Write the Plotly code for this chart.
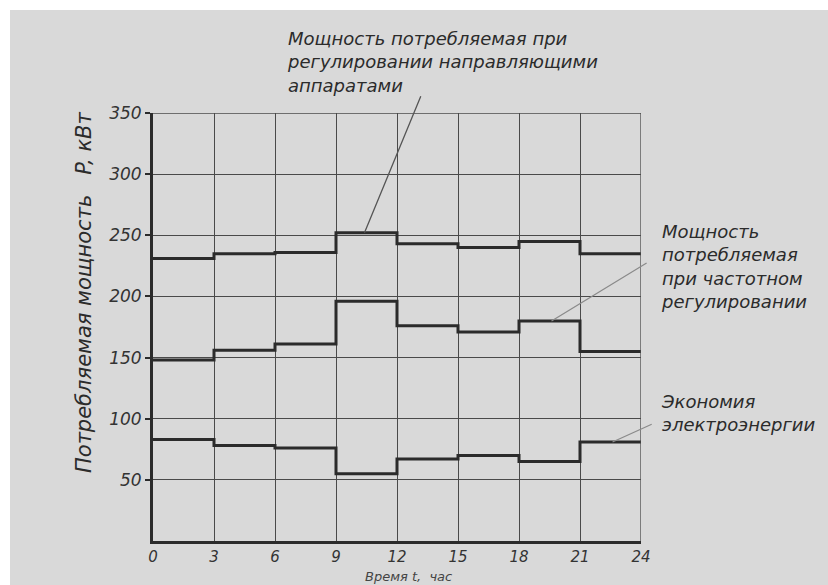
import plotly.graph_objects as go

hours = [0, 3, 6, 9, 12, 15, 18, 21]
end_hour = 24
guide_vanes = [231, 235, 236, 252, 243, 240, 245, 235]
frequency = [148, 156, 161, 196, 176, 171, 180, 155]
savings = [83, 78, 76, 55, 67, 70, 65, 81]

x_ticks = [0, 3, 6, 9, 12, 15, 18, 21, 24]
y_ticks = [50, 100, 150, 200, 250, 300, 350]

label_guide = "Мощность потребляемая при<br>регулировании направляющими<br>аппаратами"
label_freq = "Мощность<br>потребляемая<br>при частотном<br>регулировании"
label_save = "Экономия<br>электроэнергии"
x_title = "Время t,  час"
y_title = "Потребляемая мощность   P, кВт"

FONT = "DejaVu Sans"
INK = "#2b2b2b"
BG = "#d9d9d9"

fig = go.Figure()
xs = hours + [end_hour]
for vals in (guide_vanes, frequency, savings):
    fig.add_trace(go.Scatter(
        x=xs, y=vals + [vals[-1]], mode="lines", line_shape="hv",
        line=dict(color=INK, width=3), showlegend=False, hoverinfo="skip"))

# background card (white border at top/left)
fig.add_shape(type="rect", xref="paper", yref="paper",
              x0=(10 - 153) / 488, x1=1.6, y0=-0.3, y1=(541 - 10) / 428,
              fillcolor=BG, line_width=0, layer="below")

def leader(x0, y0, x1, y1, color="#6a6a6a", width=1.2):
    fig.add_annotation(x=x0, y=y0, ax=x1, ay=y1, xref="x", yref="y", axref="x", ayref="y",
                       showarrow=True, arrowhead=0, arrowwidth=width, arrowcolor=color, text="")

leader(10.4, 252, 13.2, 365, color="#555555", width=1.3)
leader(19.6, 180, 24.35, 228, color="#8a8a8a", width=1.2)
leader(22.6, 81, 24.6, 96, color="#8a8a8a", width=1.2)

ann_font = dict(family=FONT, size=18, color=INK, style="italic")
fig.add_annotation(text=label_guide, xref="paper", yref="paper", x=(285-153)/488, y=(541-26)/428,
                   xanchor="left", yanchor="top", align="left", showarrow=False, font=ann_font)
fig.add_annotation(text=label_freq, xref="paper", yref="paper", x=(659-153)/488, y=(541-219)/428,
                   xanchor="left", yanchor="top", align="left", showarrow=False, font=ann_font)
fig.add_annotation(text=label_save, xref="paper", yref="paper", x=(659-153)/488, y=(541-389)/428,
                   xanchor="left", yanchor="top", align="left", showarrow=False, font=ann_font)

fig.add_annotation(text=x_title, xref="paper", yref="paper", x=(408-153)/488, y=(541-576.5)/428,
                   xanchor="center", yanchor="middle", showarrow=False,
                   font=dict(family=FONT, size=13, color="#444", style="italic"))
fig.add_annotation(text=y_title, xref="paper", yref="paper", x=(84-153)/488, y=(541-292)/428,
                   xanchor="center", yanchor="middle", textangle=-90, showarrow=False,
                   font=dict(family=FONT, size=21, color=INK, style="italic"))

tick_font = dict(family=FONT, size=15, color="#333", style="italic")
fig.update_xaxes(range=[0, 24], tickvals=x_ticks, ticktext=[str(v) for v in x_ticks],
                 showgrid=True, gridcolor="#4a4a4a", gridwidth=1.3,
                 showline=True, linecolor=INK, linewidth=3, zeroline=False,
                 ticks="", tickfont=tick_font)
fig.update_yaxes(range=[0, 350], tickvals=y_ticks, ticktext=[str(v) for v in y_ticks],
                 showgrid=True, gridcolor="#4a4a4a", gridwidth=1.3,
                 showline=True, linecolor=INK, linewidth=3, zeroline=False,
                 ticks="outside", ticklen=5, tickcolor=INK, tickwidth=2,
                 tickfont=dict(family=FONT, size=17, color="#333", style="italic"))

fig.add_shape(type="line", xref="x", yref="y", x0=24, x1=24, y0=0, y1=350,
              line=dict(color="#4a4a4a", width=1.3))
fig.add_shape(type="line", xref="x", yref="y", x0=0, x1=24, y0=350, y1=350,
              line=dict(color="#4a4a4a", width=1.3))

fig.update_layout(width=828, height=585, margin=dict(l=153, r=187, t=113, b=44),
                  paper_bgcolor="white", plot_bgcolor=BG,
                  font=dict(family=FONT, color=INK))
fig.write_html("out.html")
